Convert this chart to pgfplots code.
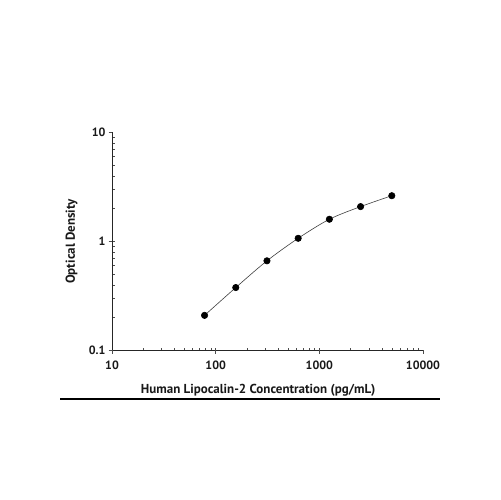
\documentclass[border=0pt]{standalone}
\usepackage{pgfplots}
\pgfplotsset{compat=1.18}
\usepackage{fontspec}
\setmainfont{PT Sans}

\begin{document}
\begin{tikzpicture}[x=1bp,y=1bp]
\useasboundingbox (0,0) rectangle (500,500);

\begin{axis}[
	scale only axis,
	width=311bp,
	height=218bp,
	at={(112bp,149.5bp)},
	anchor=south west,
	xmode=log,
	ymode=log,
	xmin=10, xmax=10000,
	ymin=0.1, ymax=10,
	axis x line*=bottom,
	axis y line*=left,
	axis line style={line width=0.8bp,black!85,-},
	xtick={10,100,1000,10000},
	ytick={0.1,1,10},
	xticklabels={10,100,1000,10000},
	yticklabels={0.1,1,10},
	tick align=inside,
	major tick length=0pt,
	minor tick length=3bp,
	tick style={line width=0.5bp,black!70},
	extra x ticks={10,100,1000,10000},
	extra y ticks={0.1,1,10},
	extra x tick labels={},
	extra y tick labels={},
	extra tick style={tick align=outside,major tick length=3.5bp},
	/pgf/number format/assume math mode=true,
	ticklabel style={font=\fontsize{12bp}{14bp}\selectfont\bfseries,text=black!90},
	xticklabel style={yshift=-7bp},
	yticklabel style={xshift=-3bp},
	label style={font=\fontsize{13bp}{16bp}\selectfont\bfseries,text=black!90},
	xlabel={Human Lipocalin-2 Concentration (pg/mL)},
	ylabel={Optical Density},
	xlabel style={at={(axis description cs:0.47,0)},anchor=north,yshift=-30bp},
	ylabel style={at={(axis description cs:0,0.5)},anchor=south,yshift=31bp},
	clip=false,
	]
\addplot[
	color=black!75,
	line width=0.6bp,
	smooth,
	mark=*,
	mark size=3.2bp,
	mark options={solid,fill=black,draw=black}
	]
table[row sep=crcr]{
78.125 0.210\\
156.25 0.378\\
312.5 0.665\\
625 1.07\\
1250 1.60\\
2500 2.09\\
5000 2.63\\
};
\end{axis}

\draw[line width=1.4bp,black] (60,101) -- (440,101);

\end{tikzpicture}
\end{document}
